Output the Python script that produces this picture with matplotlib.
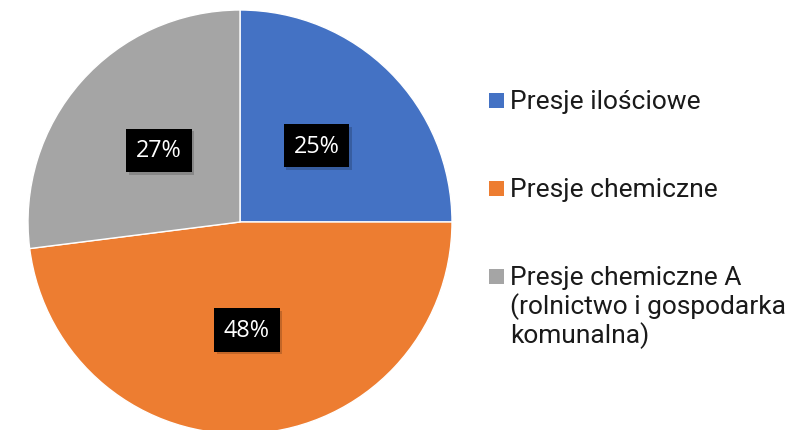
import matplotlib
matplotlib.use("Agg")
import matplotlib.pyplot as plt
from matplotlib.patches import Rectangle
import matplotlib.patheffects as pe

categories = ["Presje ilościowe", "Presje chemiczne",
              "Presje chemiczne A\n(rolnictwo i gospodarka\nkomunalna)"]
values = [25, 48, 27]
colors = ["#4472C4", "#ED7D31", "#A5A5A5"]

W, H = 795, 431
fig = plt.figure(figsize=(W / 100, H / 100), dpi=100)
fig.patch.set_facecolor("white")

cx, cy, r = 240, 223, 212
ax = fig.add_axes([(cx - r) / W, (H - cy - r) / H, 2 * r / W, 2 * r / H])

wedges, texts, autotexts = ax.pie(
    values, colors=colors, startangle=90, counterclock=False,
    radius=1.0, autopct=lambda p: f"{p:.0f}%", pctdistance=0.51,
    wedgeprops=dict(edgecolor="white", linewidth=1.0),
    textprops=dict(color="white", fontsize=16.8, family=["Open Sans", "DejaVu Sans"]))
for t in autotexts:
    t.set_bbox(dict(boxstyle="square,pad=0.42", facecolor="black", edgecolor="none",
                    path_effects=[pe.SimplePatchShadow(offset=(2, -2), alpha=0.18), pe.Normal()]))
ax.set_xlim(-1, 1)
ax.set_ylim(-1, 1)
ax.set_aspect("equal")
ax.axis("off")

# legend (manual layout)
first_baselines = [109, 197, 285]
line_step = 29
for lab, col, yb in zip(categories, colors, first_baselines):
    fig.patches.append(Rectangle((489 / W, 1 - yb / H), 15 / W, 15 / H,
                                 transform=fig.transFigure, facecolor=col,
                                 edgecolor="none"))
    for k, line in enumerate(lab.split("\n")):
        fig.text(510 / W, 1 - (yb + k * line_step) / H, line, fontsize=19.0,
                 family=["Roboto", "DejaVu Sans"], color="#1a1a1a",
                 va="baseline", ha="left")

fig.savefig("out.png", dpi=100, facecolor="white")
